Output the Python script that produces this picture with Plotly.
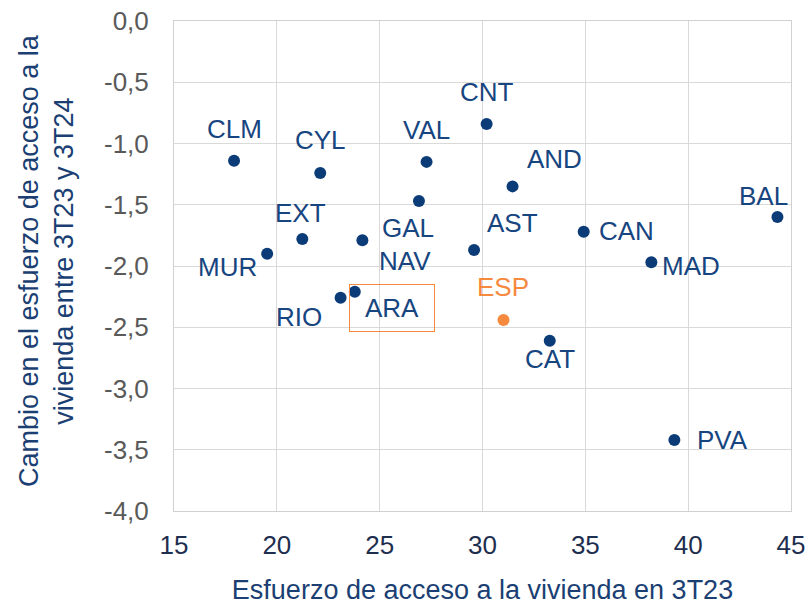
import plotly.graph_objects as go

# Data
regions = ["CLM", "CYL", "VAL", "CNT", "AND", "BAL", "GAL", "EXT", "NAV", "MUR",
           "AST", "CAN", "MAD", "RIO", "ARA", "CAT", "PVA"]
esfuerzo_3t23 = [17.92, 22.11, 27.28, 30.20, 31.46, 44.34, 26.91, 21.24, 24.16, 19.53,
                 29.59, 34.92, 38.21, 23.10, 23.79, 33.27, 39.33]
cambio = [-1.14, -1.24, -1.15, -0.84, -1.35, -1.60, -1.47, -1.78, -1.79, -1.90,
          -1.87, -1.72, -1.97, -2.26, -2.21, -2.61, -3.42]

esp_name = ["ESP"]
esp_x = [31.02]
esp_y = [-2.44]

x_ticks = [15, 20, 25, 30, 35, 40, 45]
y_ticks = [0.0, -0.5, -1.0, -1.5, -2.0, -2.5, -3.0, -3.5, -4.0]
y_ticktext = [("%.1f" % v).replace(".", ",") for v in y_ticks]

# Label placement offsets (pixels), style only
label_shift = {
    "CLM": (0, 32), "CYL": (0, 33), "VAL": (0, 32), "CNT": (0, 32),
    "AND": (42, 27), "BAL": (-14, 21), "AST": (38, 27), "CAN": (43, 1),
    "MAD": (40, -4), "CAT": (0, -18), "PVA": (48, 0), "EXT": (-2, 26),
    "MUR": (-40, -13), "RIO": (-42, -19), "ARA": (37, -16), "NAV": (43, -21),
    "GAL": (-11, -27), "ESP": (0, 33),
}

NAVY = "#0B3C78"
LABEL = "#16457F"
ORANGE = "#F5893D"
FONT = "Liberation Sans, Arial, sans-serif"

fig = go.Figure()
fig.add_trace(go.Scatter(x=esfuerzo_3t23, y=cambio, mode="markers",
                         marker=dict(size=12, color=NAVY), hoverinfo="skip",
                         showlegend=False))
fig.add_trace(go.Scatter(x=esp_x, y=esp_y, mode="markers",
                         marker=dict(size=12, color=ORANGE), hoverinfo="skip",
                         showlegend=False))

annotations = []
for name, xv, yv in zip(regions, esfuerzo_3t23, cambio):
    dx, dy = label_shift[name]
    ann = dict(x=xv, y=yv, xref="x", yref="y", text=name, showarrow=False,
               xshift=dx, yshift=dy, font=dict(family=FONT, size=26, color=LABEL))
    if name == "ARA":
        ann.update(bordercolor=ORANGE, borderwidth=1, width=82, height=44,
                   bgcolor="rgba(255,255,255,0)")
    annotations.append(ann)
for name, xv, yv in zip(esp_name, esp_x, esp_y):
    dx, dy = label_shift[name]
    annotations.append(dict(x=xv, y=yv, xref="x", yref="y", text=name, showarrow=False,
                            xshift=dx, yshift=dy,
                            font=dict(family=FONT, size=26, color=ORANGE)))

# Y-axis title (two lines, rotated)
annotations.append(dict(x=0, y=0.5, xref="paper", yref="paper", xanchor="center",
                        yanchor="middle", xshift=-128, yshift=5, textangle=-90,
                        showarrow=False,
                        text="Cambio en el esfuerzo de acceso a la<br>vivienda entre 3T23 y 3T24",
                        font=dict(family=FONT, size=27, color="#1B3F73")))

fig.update_layout(
    width=809, height=605,
    margin=dict(l=174, r=18, t=21, b=94),
    paper_bgcolor="white", plot_bgcolor="white",
    annotations=annotations,
    xaxis=dict(range=[15, 45], tickvals=x_ticks, showgrid=True, gridcolor="#D9D9D9",
               gridwidth=1, showline=True, linecolor="#D0D0D0", mirror=True,
               zeroline=False, ticks="", ticklabelstandoff=11, automargin=False,
               ticklabeloverflow="allow",
               tickfont=dict(family=FONT, size=26, color="#1E2E4F"),
               title=dict(text="Esfuerzo de acceso a la vivienda en 3T23",
                          font=dict(family=FONT, size=27, color="#1B3F73"),
                          standoff=23)),
    yaxis=dict(range=[-4, 0], tickvals=y_ticks, ticktext=y_ticktext, showgrid=True,
               gridcolor="#D9D9D9", gridwidth=1, showline=True, linecolor="#D0D0D0",
               mirror=True, zeroline=False, ticks="", ticklabelstandoff=19,
               automargin=False, ticklabeloverflow="allow",
               tickfont=dict(family=FONT, size=26, color="#595959")),
)

# Remove the default page margin so the 809x605 figure fills the window exactly
fig.write_html("out.html", config={"displayModeBar": False},
               post_script="document.body.style.margin='0';document.body.style.overflow='hidden';")
